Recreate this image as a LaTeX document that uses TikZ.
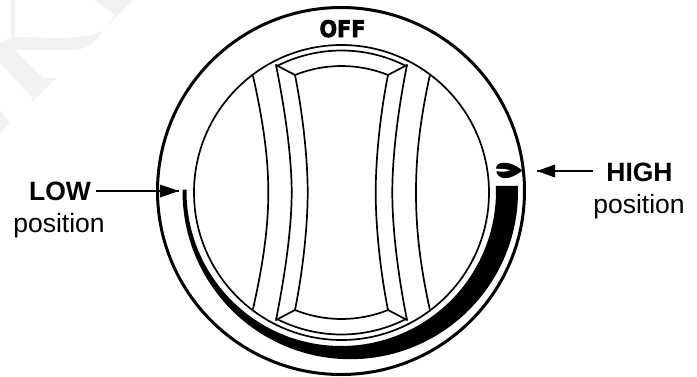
\documentclass[tikz,border=0pt]{standalone}
\usepackage{fontspec}
\setmainfont{Liberation Sans}
\newfontfamily\offfont[FakeBold=2.6,FakeStretch=0.9]{DejaVu Sans Bold}
\begin{document}
\begin{tikzpicture}[x=1pt,y=1pt,yscale=-1,
  lab/.style={font=\fontsize{26.5}{28}\selectfont,inner sep=0pt,anchor=base},
  labb/.style={lab,font=\fontsize{26.5}{28}\bfseries\selectfont},
  thin line/.style={line width=1.7pt,line cap=round,line join=round},
  pointer/.style={line width=2.5pt},
  headfill/.style={fill=black,draw=none}]
\useasboundingbox (0,0) rectangle (697,376);
% faint watermark
\fill[black!5] (11,0) -- (15,0) -- (15,37) -- (60,38) .. controls (82,37) and (95,36) .. (103,30) .. controls (95,45) and (85,50) .. (70,50) -- (15,50) -- (43,78) -- (56,78) -- (32,102) -- (32,97) -- (0,63) -- (0,43) -- (11,38) -- cycle;
\fill[black!5] (95,0) -- (133,0) -- (106,27) -- (115,15) -- cycle;
\fill[black!5] (0,110) -- (10,123) -- (0,133) -- cycle;
% outer ring and knob
\draw[line width=3pt] (341,191) circle[radius=183.5];
\draw[thin line] (341.5,192.5) circle[radius=147.5];
% range band
\fill[black] (341.25,191.25) ++(180.6:154.75) arc[start angle=180.6,end angle=-2,radius=154.75]
   -- (517.9,185.9) arc[start angle=-1.9,end angle=180.6,radius=167.75] -- cycle;
% knob grip
\draw[thin line] (341.5,192.5) ++(242.8:142) arc[start angle=242.8,end angle=297.2,radius=142];
\draw[thin line] (341.5,192.5) ++(117.2:142) arc[start angle=117.2,end angle=62.8,radius=142];
\draw[thin line] (295,75) .. controls (325,63) and (358,63) .. (388,75);
\draw[thin line] (295,310) .. controls (325,322) and (358,322) .. (388,310);
\draw[thin line] (276,65) -- (295,75);
\draw[thin line] (407,65) -- (388,75);
\draw[thin line] (276,320) -- (295,310);
\draw[thin line] (407,320) -- (388,310);
\draw[thin line] (253,76) .. controls (264,125) and (268.3,160) .. (268.3,192.5) .. controls (268.3,225) and (264,260) .. (253,309);
\draw[thin line] (276,65) .. controls (286,115) and (291.7,160) .. (291.7,192.5) .. controls (291.7,225) and (286,270) .. (276,320);
\draw[thin line] (295,75) .. controls (303,115) and (307.7,160) .. (307.7,192.5) .. controls (307.7,225) and (303,270) .. (295,310);
\draw[thin line] (388,75) .. controls (380,115) and (375.7,160) .. (375.7,192.5) .. controls (375.7,225) and (380,270) .. (388,310);
\draw[thin line] (407,65) .. controls (397,115) and (392.3,160) .. (392.3,192.5) .. controls (392.3,225) and (397,270) .. (407,320);
\draw[thin line] (429.7,76) .. controls (419,125) and (416,160) .. (416,192.5) .. controls (416,225) and (419,260) .. (429.7,309);
% flame
\fill[black] (522.7,170.5) .. controls (515,165) and (510,162.7) .. (504,162.7) .. controls (499,162.7) and (496,165) .. (496,169) .. controls (496,175) and (500,178.2) .. (505,178.2) .. controls (511,178.2) and (516,175) .. (522.7,170.5) -- cycle;
\fill[white] (495,168.6) -- (503,169) .. controls (506,169) and (508,169.5) .. (510,170.2) .. controls (507,171.6) and (504,171.8) .. (501,171.6) -- (495,171.2) -- cycle;
% labels
\node[labb] (low) at (60,200) {LOW};
\node[lab] (lowpos) at (59,232.5) {position};
\node[labb] (high) at (639.5,181) {HIGH};
\node[lab] (highpos) at (639,213) {position};
\node[inner sep=0pt,anchor=base] (off) at (342.5,37) {\offfont\fontsize{23}{24}\selectfont OFF};
% pointers
\coordinate (lowtip) at (179,191);
\coordinate (hightip) at (537,171);
\draw[pointer] (low.east |- lowtip) ++(5,0) coordinate (lowstart) -- (lowtip);
\fill[headfill] (lowtip) -- ++(-19,-6.5) -- ++(0,13) -- cycle;
\draw[pointer] (hightip) -- (593,171) coordinate (highstart);
\fill[headfill] (hightip) -- ++(18,-6.5) -- ++(0,13) -- cycle;
\end{tikzpicture}
\end{document}
